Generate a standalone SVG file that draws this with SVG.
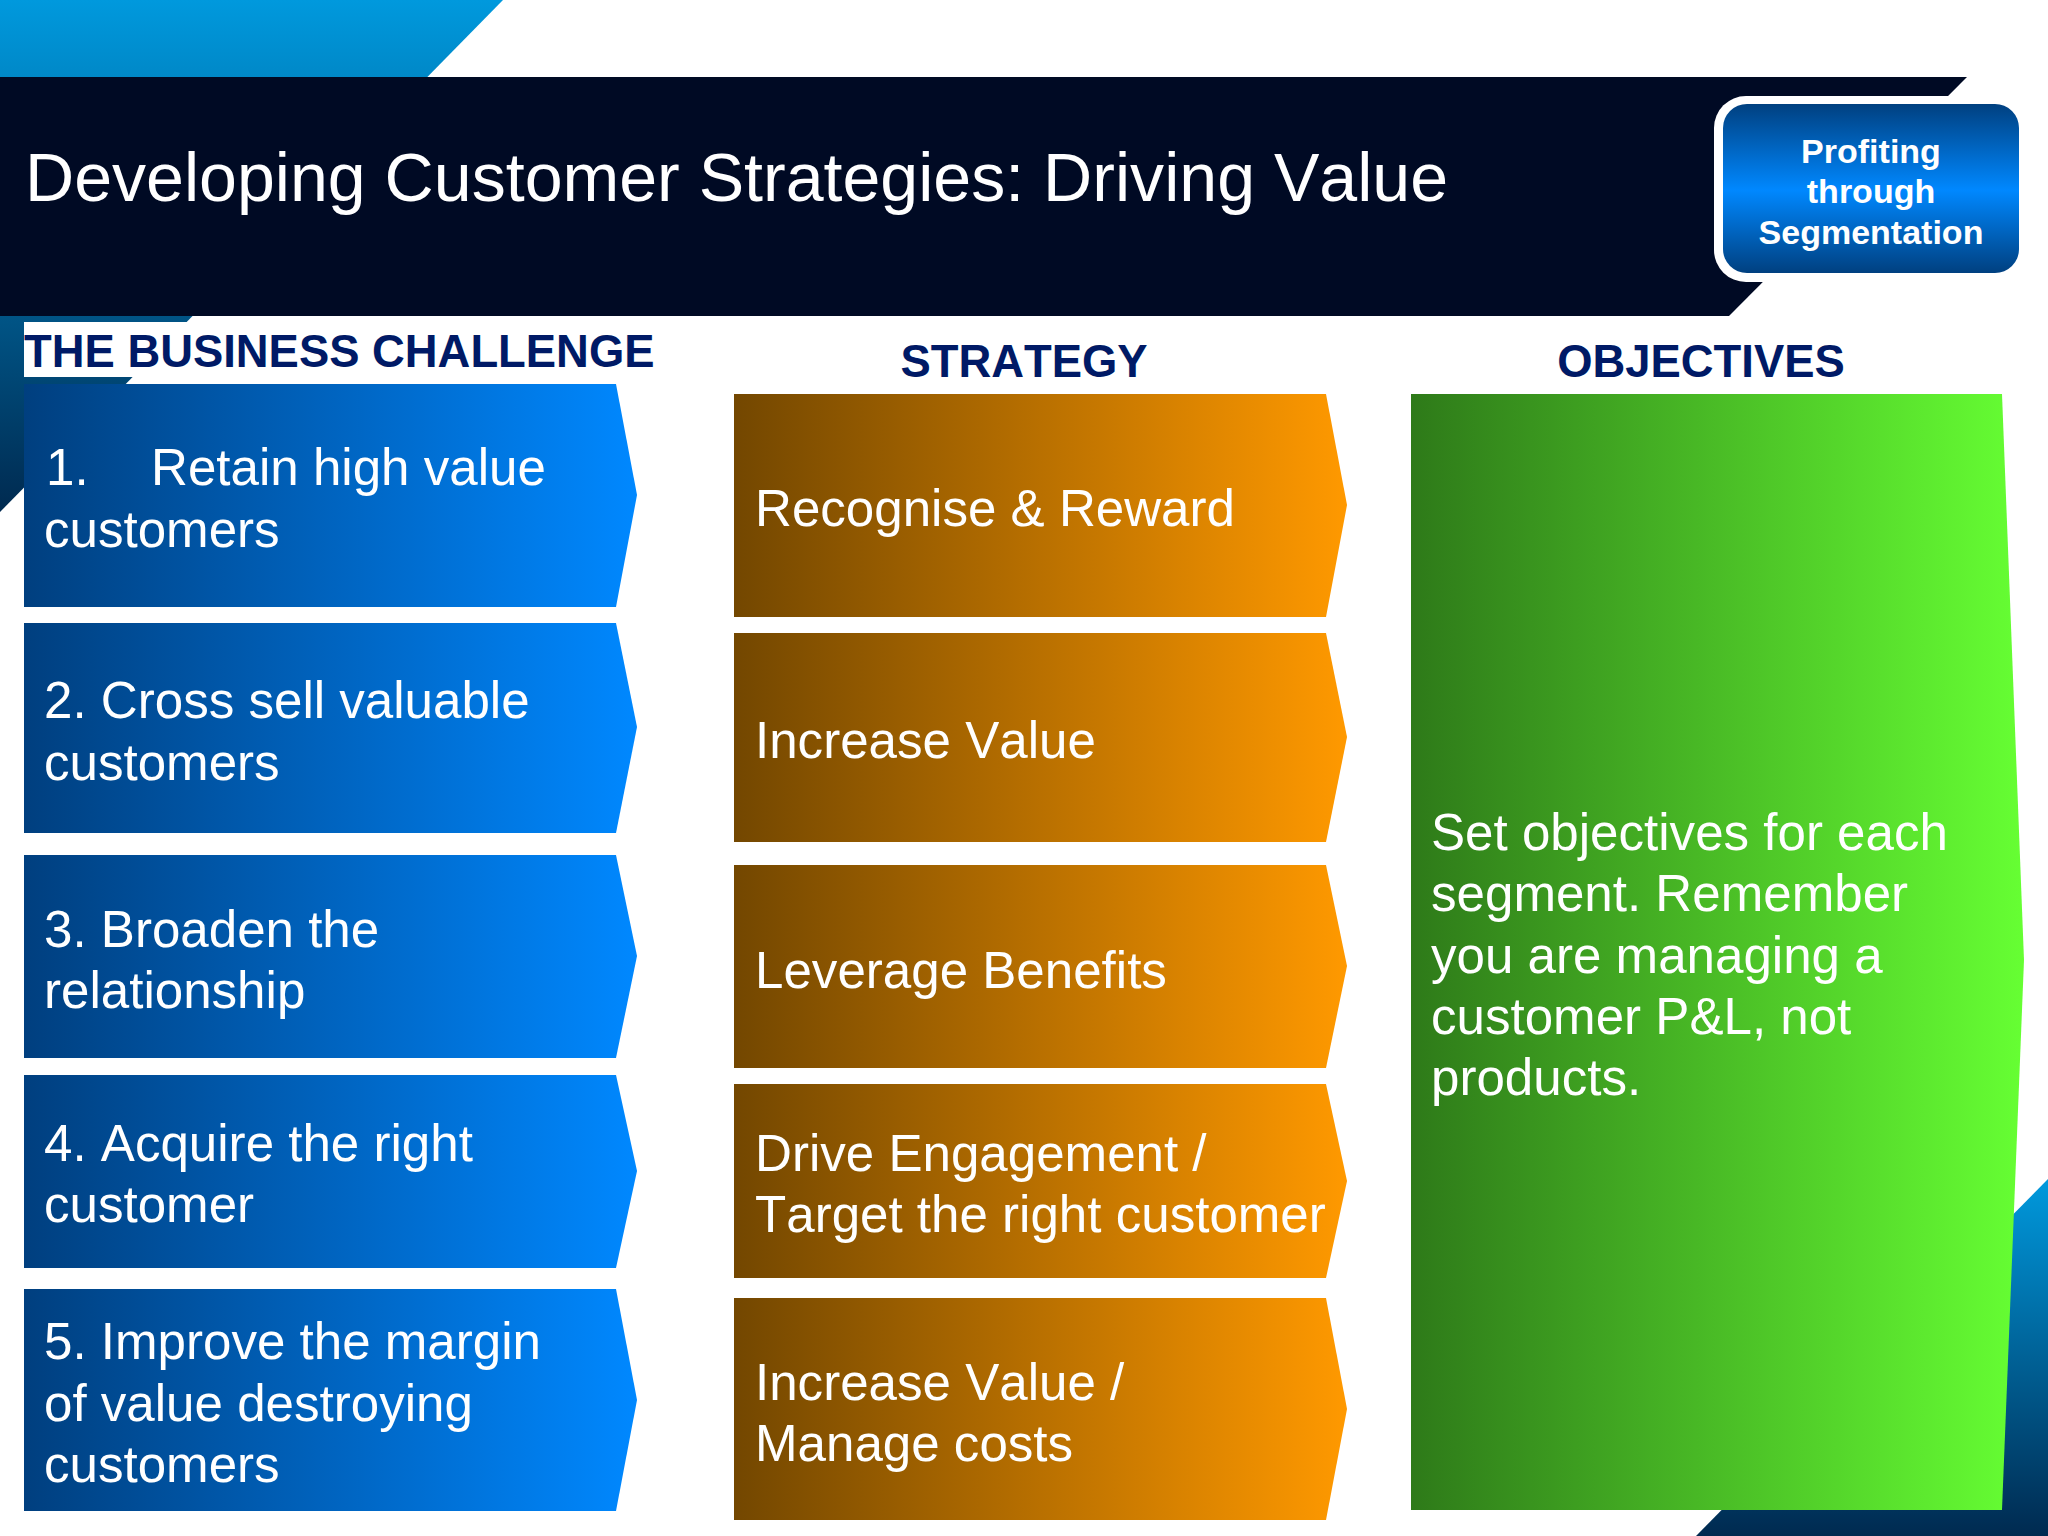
<svg xmlns="http://www.w3.org/2000/svg" width="2048" height="1536" viewBox="0 0 2048 1536">
<style>
text{font-family:"Liberation Sans",Arial,sans-serif;font-kerning:none}
.b{font-size:51.1px;fill:#fff}
.h{font-size:45.4px;font-weight:bold;fill:#001a66}
.t{font-size:34px;font-weight:bold;fill:#fff;text-anchor:middle}
.cb{fill:url(#gb)}.co{fill:url(#go)}
</style>
<defs>
<linearGradient id="gb"><stop offset="0" stop-color="#003f7f"/><stop offset="1" stop-color="#0088ff"/></linearGradient>
<linearGradient id="go"><stop offset="0" stop-color="#734700"/><stop offset="1" stop-color="#ff9900"/></linearGradient>
<linearGradient id="gg"><stop offset="0" stop-color="#2e7a19"/><stop offset="1" stop-color="#66ff33"/></linearGradient>
<linearGradient id="gt" x1="0" y1="0" x2="0" y2="1"><stop offset="0" stop-color="#0099dd"/><stop offset="1" stop-color="#002a50"/></linearGradient>
<linearGradient id="gp" x1="0" y1="0" x2="0" y2="1"><stop offset="0" stop-color="#004080"/><stop offset="0.51" stop-color="#0088ff"/><stop offset="1" stop-color="#004080"/></linearGradient>
</defs>
<rect width="2048" height="1536" fill="#fff"/>
<g id="background">
<polygon points="0,0 503,0 0,512" fill="url(#gt)"/>
<polygon points="2048,1179 2048,1536 1696,1536" fill="url(#gt)"/>
<polygon points="0,77 1967,77 1729,316 0,316" fill="#000a24"/>
<rect x="24" y="322" width="640" height="55" fill="#fff"/>
</g>
<g id="title"><text x="25" y="201" font-size="68.1" fill="#fff">Developing Customer Strategies: Driving Value</text></g>
<g id="badge">
<rect x="1714" y="96" width="330" height="186" rx="32" fill="#fff"/>
<rect x="1723" y="104" width="296" height="169" rx="24" fill="url(#gp)"/>
<text class="t" x="1871" y="163">Profiting</text>
<text class="t" x="1871" y="203">through</text>
<text class="t" x="1871" y="244">Segmentation</text>
</g>
<g id="headers">
<text class="h" x="24" y="367">THE BUSINESS CHALLENGE</text>
<text class="h" x="1024" y="377" text-anchor="middle">STRATEGY</text>
<text class="h" x="1701" y="377" text-anchor="middle">OBJECTIVES</text>
</g>
<g id="challenge-1"><polygon class="cb" points="24,384 616,384 637,495 616,607 24,607"/><text class="b" x="46" y="485">1.<tspan x="151">Retain high value</tspan><tspan x="44" y="547">customers</tspan></text></g>
<g id="challenge-2"><polygon class="cb" points="24,623 616,623 637,727 616,833 24,833"/><text class="b" x="44" y="718">2. Cross sell valuable<tspan x="44" y="780">customers</tspan></text></g>
<g id="challenge-3"><polygon class="cb" points="24,855 616,855 637,956 616,1058 24,1058"/><text class="b" x="44" y="947">3. Broaden the<tspan x="44" y="1008">relationship</tspan></text></g>
<g id="challenge-4"><polygon class="cb" points="24,1075 616,1075 637,1171 616,1268 24,1268"/><text class="b" x="44" y="1161">4. Acquire the right<tspan x="44" y="1222">customer</tspan></text></g>
<g id="challenge-5"><polygon class="cb" points="24,1289 616,1289 637,1400 616,1511 24,1511"/><text class="b" x="44" y="1359">5. Improve the margin<tspan x="44" y="1421">of value destroying</tspan><tspan x="44" y="1482">customers</tspan></text></g>
<g id="strategy-1"><polygon class="co" points="734,394 1326,394 1347,505 1326,617 734,617"/><text class="b" x="755" y="526">Recognise &amp; Reward</text></g>
<g id="strategy-2"><polygon class="co" points="734,633 1326,633 1347,737 1326,842 734,842"/><text class="b" x="755" y="758">Increase Value</text></g>
<g id="strategy-3"><polygon class="co" points="734,865 1326,865 1347,966 1326,1068 734,1068"/><text class="b" x="755" y="988">Leverage Benefits</text></g>
<g id="strategy-4"><polygon class="co" points="734,1084 1326,1084 1347,1181 1326,1278 734,1278"/><text class="b" x="755" y="1171">Drive Engagement /<tspan x="755" y="1232">Target the right customer</tspan></text></g>
<g id="strategy-5"><polygon class="co" points="734,1298 1326,1298 1347,1409 1326,1520 734,1520"/><text class="b" x="755" y="1400">Increase Value /<tspan x="755" y="1461">Manage costs</tspan></text></g>
<g id="objectives"><polygon fill="url(#gg)" points="1411,394 2002,394 2024,960 2002,1510 1411,1510"/>
<text class="b" x="1431" y="850">Set objectives for each<tspan x="1431" y="911">segment. Remember</tspan><tspan x="1431" y="973">you are managing a</tspan><tspan x="1431" y="1034">customer P&amp;L, not</tspan><tspan x="1431" y="1095">products.</tspan></text></g>
</svg>
